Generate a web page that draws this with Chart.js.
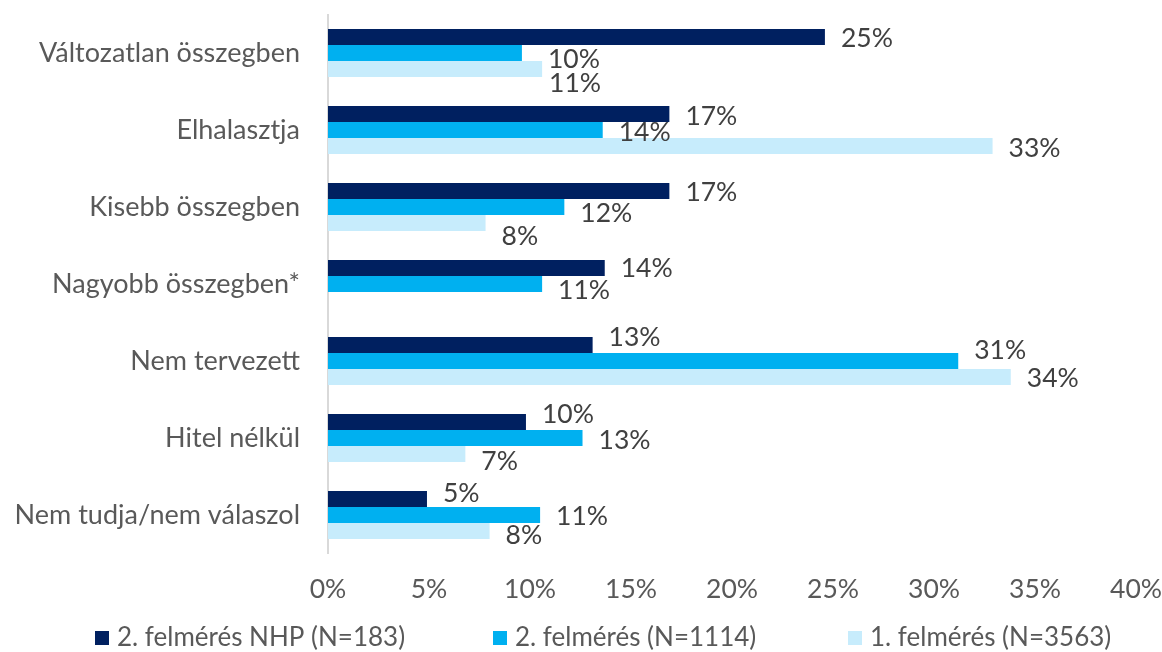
<!DOCTYPE html>
<html>
<head>
<meta charset="utf-8">
<script src="https://cdn.jsdelivr.net/npm/chart.js@4/dist/chart.umd.min.js"></script>
<style>
html,body{margin:0;padding:0;background:#fff;}
#wrap{position:relative;width:1162px;height:652px;}
</style>
</head>
<body>
<div id="wrap"><canvas id="c" width="1162" height="652"></canvas></div>
<script>
const categories = ["Változatlan összegben","Elhalasztja","Kisebb összegben","Nagyobb összegben*","Nem tervezett","Hitel nélkül","Nem tudja/nem válaszol"];
const seriesNames = ["2. felmérés NHP (N=183)","2. felmérés (N=1114)","1. felmérés (N=3563)"];
const valuesNHP = [24.6,16.9,16.9,13.7,13.1,9.8,4.9];
const values2 = [9.6,13.6,11.7,10.6,31.2,12.6,10.5];
const values1 = [10.6,32.9,7.8,null,33.8,6.8,8.0];
const labelsNHP = ["25%","17%","17%","14%","13%","10%","5%"];
const labels2 = ["10%","14%","12%","11%","31%","13%","11%"];
const labels1 = ["11%","33%","8%",null,"34%","7%","8%"];
const xTicks = [0,5,10,15,20,25,30,35,40];

const FONT = "Lato, 'Open Sans', sans-serif";
const FS = 26.5;
const colors = ["#002060","#00B0F0","#C7ECFC"];

const labelOffsets = {
  dx: [[16,16,16,16,16,16,16],[26,16,16,16,16,16,16],[7,16,16,16,16,16,16]],
  dy: [[1,2,1,0,-8,-8,-6],[6,2,6,6,-11,2,1],[14,2,13,0,1,7,4]]
};

const dataLabelPlugin = {
  id: 'dataLabels',
  afterDatasetsDraw(chart) {
    const ctx = chart.ctx;
    const lbls = [labelsNHP, labels2, labels1];
    ctx.save();
    ctx.font = FS + "px " + FONT;
    ctx.fillStyle = "#404040";
    ctx.textAlign = "left";
    ctx.textBaseline = "middle";
    chart.data.datasets.forEach((ds, di) => {
      const meta = chart.getDatasetMeta(di);
      meta.data.forEach((bar, i) => {
        const t = lbls[di][i];
        if (t == null || ds.data[i] == null) return;
        ctx.fillText(t, bar.x + labelOffsets.dx[di][i], bar.y + labelOffsets.dy[di][i]);
      });
    });
    ctx.restore();
  }
};

const legendPlugin = {
  id: 'customLegend',
  afterDraw(chart) {
    const ctx = chart.ctx;
    const boxX = [95, 493, 848];
    const y = 638;
    ctx.save();
    ctx.font = "26px " + FONT;
    ctx.textBaseline = "middle";
    ctx.textAlign = "left";
    seriesNames.forEach((n, i) => {
      ctx.fillStyle = colors[i];
      ctx.fillRect(boxX[i], y - 7, 14, 14);
      ctx.fillStyle = "#595959";
      ctx.fillText(n, boxX[i] + 22, y);
    });
    ctx.restore();
  }
};

new Chart(document.getElementById('c'), {
  type: 'bar',
  data: {
    labels: categories,
    datasets: [
      {label: seriesNames[0], data: valuesNHP, backgroundColor: colors[0]},
      {label: seriesNames[1], data: values2, backgroundColor: colors[1]},
      {label: seriesNames[2], data: values1, backgroundColor: colors[2]}
    ]
  },
  options: {
    indexAxis: 'y',
    responsive: false,
    animation: false,
    devicePixelRatio: 1,
    categoryPercentage: 48/77,
    barPercentage: 1.0,
    layout: {padding: {top: 14.5, right: 26, bottom: 38.5, left: 0}},
    plugins: {legend: {display: false}, tooltip: {enabled: false}},
    scales: {
      x: {
        min: 0, max: 40,
        afterBuildTicks(axis) { axis.ticks = xTicks.map(v => ({value: v})); },
        grid: {display: false, drawTicks: false},
        border: {display: false},
        ticks: {
          padding: 20,
          color: "#595959",
          font: {family: FONT, size: FS},
          callback: v => v + "%"
        },
        afterFit(axis) { axis.height = 60; axis.paddingLeft = 0; axis.paddingRight = 0; }
      },
      y: {
        grid: {display: false, drawTicks: false},
        border: {display: true, color: "#D9D9D9", width: 2},
        ticks: {
          padding: 28,
          color: "#595959",
          font: {family: FONT, size: 27}
        },
        afterFit(axis) { axis.width = 328; axis.paddingTop = 0; axis.paddingBottom = 0; }
      }
    }
  },
  plugins: [dataLabelPlugin, legendPlugin]
});
</script>
</body>
</html>
